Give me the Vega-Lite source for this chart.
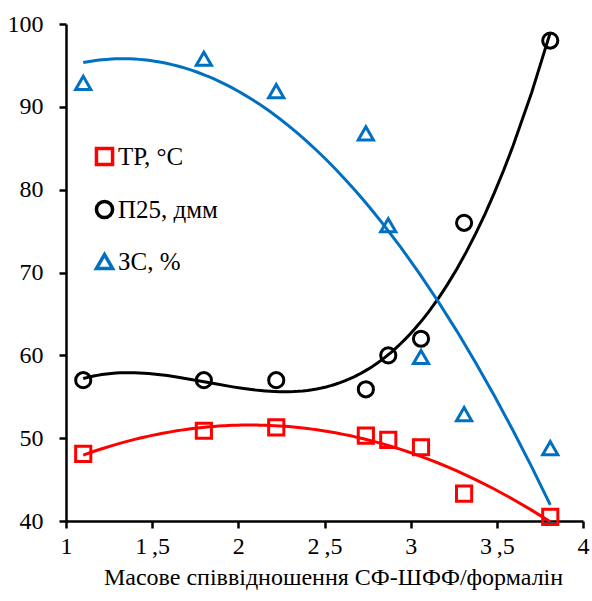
{
  "$schema": "https://vega.github.io/schema/vega-lite/v6.json",
  "width": 517,
  "height": 497,
  "autosize": {"type": "none"},
  "padding": {"left": 66, "top": 24, "right": 9, "bottom": 80},
  "background": "white",
  "config": {
    "view": {"stroke": null},
    "font": "Liberation Serif",
    "axis": {
      "grid": false,
      "domainColor": "black",
      "domainWidth": 2.5,
      "tickColor": "black",
      "tickWidth": 2.5,
      "tickSize": 7,
      "labelColor": "black",
      "labelFont": "Liberation Serif",
      "labelFontSize": 24,
      "titleFont": "Liberation Serif",
      "titleFontSize": 24,
      "titleFontWeight": "normal",
      "titleColor": "black"
    }
  },
  "data": {
    "values": [
      {"ratio": 1.1, "series": "ТР, °C", "value": 48.1},
      {"ratio": 1.8, "series": "ТР, °C", "value": 50.9},
      {"ratio": 2.22, "series": "ТР, °C", "value": 51.3},
      {"ratio": 2.74, "series": "ТР, °C", "value": 50.3},
      {"ratio": 2.87, "series": "ТР, °C", "value": 49.8},
      {"ratio": 3.06, "series": "ТР, °C", "value": 48.9},
      {"ratio": 3.31, "series": "ТР, °C", "value": 43.3},
      {"ratio": 3.81, "series": "ТР, °C", "value": 40.5},
      {"ratio": 1.1, "series": "П25, дмм", "value": 57},
      {"ratio": 1.8, "series": "П25, дмм", "value": 57},
      {"ratio": 2.22, "series": "П25, дмм", "value": 57},
      {"ratio": 2.74, "series": "П25, дмм", "value": 55.9},
      {"ratio": 2.87, "series": "П25, дмм", "value": 60},
      {"ratio": 3.06, "series": "П25, дмм", "value": 62},
      {"ratio": 3.31, "series": "П25, дмм", "value": 76},
      {"ratio": 3.81, "series": "П25, дмм", "value": 98},
      {"ratio": 1.1, "series": "ЗС, %", "value": 92.9},
      {"ratio": 1.8, "series": "ЗС, %", "value": 95.8},
      {"ratio": 2.22, "series": "ЗС, %", "value": 91.9},
      {"ratio": 2.74, "series": "ЗС, %", "value": 86.8},
      {"ratio": 2.87, "series": "ЗС, %", "value": 75.7},
      {"ratio": 3.06, "series": "ЗС, %", "value": 59.8},
      {"ratio": 3.31, "series": "ЗС, %", "value": 52.9},
      {"ratio": 3.81, "series": "ЗС, %", "value": 48.8}
    ]
  },
  "encoding": {
    "x": {
      "field": "ratio",
      "type": "quantitative",
      "scale": {"domain": [1, 4], "nice": false, "zero": false},
      "axis": {
        "title": "Масове співвідношення СФ-ШФФ/формалін",
        "titleX": 267,
        "values": [1, 1.5, 2, 2.5, 3, 3.5, 4],
        "labelExpr": "replace(format(datum.value, '~g'), '.', '\u2009,')",
        "labelPadding": 6,
        "titlePadding": 7,
        "labelFlush": false
      }
    },
    "y": {
      "field": "value",
      "type": "quantitative",
      "scale": {"domain": [40, 100], "nice": false, "zero": false},
      "axis": {
        "title": null,
        "values": [40, 50, 60, 70, 80, 90, 100],
        "labelPadding": 16,
        "labelFlush": false
      }
    }
  },
  "layer": [
    {
      "transform": [
        {"filter": "datum.series === 'ТР, °C'"},
        {"regression": "value", "on": "ratio", "method": "poly", "order": 2}
      ],
      "mark": {"type": "line", "color": "#ff0000", "strokeWidth": 3}
    },
    {
      "transform": [
        {"filter": "datum.series === 'П25, дмм'"},
        {"regression": "value", "on": "ratio", "method": "poly", "order": 3}
      ],
      "mark": {"type": "line", "color": "#000000", "strokeWidth": 3}
    },
    {
      "transform": [
        {"filter": "datum.series === 'ЗС, %'"},
        {"regression": "value", "on": "ratio", "method": "poly", "order": 2}
      ],
      "mark": {"type": "line", "color": "#0070c0", "strokeWidth": 3}
    },
    {
      "mark": {"type": "point", "filled": false, "strokeWidth": 3, "size": 230, "opacity": 1},
      "encoding": {
        "color": {
          "field": "series",
          "type": "nominal",
          "scale": {"domain": ["ТР, °C", "П25, дмм", "ЗС, %"], "range": ["#ff0000", "#000000", "#0070c0"]},
          "legend": {
            "title": null,
            "orient": "none",
            "legendX": 26,
            "legendY": 120,
            "padding": 0,
            "labelFont": "Liberation Serif",
            "labelFontSize": 25,
            "labelOffset": 1,
            "rowPadding": 22,
            "symbolSize": 260,
            "symbolStrokeWidth": 3.5,
            "symbolFillColor": "transparent",
            "encode": {
              "labels": {
                "update": {
                  "fill": {"signal": "datum.value === 'ТР, °C' ? '#ff0000' : datum.value === 'ЗС, %' ? '#0070c0' : '#000000'"}
                }
              }
            }
          }
        },
        "shape": {
          "field": "series",
          "type": "nominal",
          "scale": {"domain": ["ТР, °C", "П25, дмм", "ЗС, %"], "range": ["square", "circle", "triangle-up"]}
        }
      }
    }
  ]
}
